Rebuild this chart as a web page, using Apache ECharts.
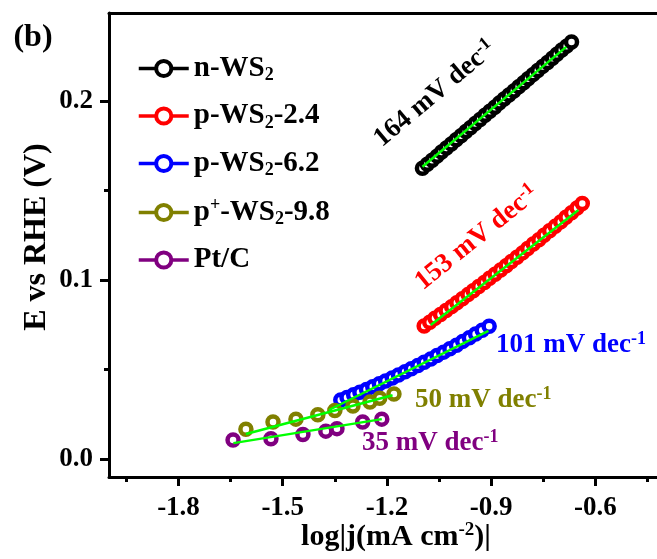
<!DOCTYPE html>
<html><head><meta charset="utf-8">
<script src="https://cdn.jsdelivr.net/npm/echarts@6/dist/echarts.min.js"></script>
<style>html,body{margin:0;padding:0;background:#fff}#c{width:657px;height:559px}</style>
</head><body><div id="c"></div>
<script>
// ---------- data ----------
const seriesNames = ['n-WS2', 'p-WS2-2.4', 'p-WS2-6.2', 'p+-WS2-9.8', 'Pt/C'];
const seriesColors = ['#000000', '#ff0000', '#0000ff', '#808000', '#800080'];

const nWS2_x = [-1.098,-1.084,-1.070,-1.056,-1.043,-1.029,-1.015,-1.001,-0.987,-0.973,-0.960,-0.946,-0.932,-0.918,-0.904,-0.890,-0.877,-0.863,-0.849,-0.835,-0.821,-0.807,-0.794,-0.780,-0.766,-0.752,-0.738,-0.724,-0.711,-0.697,-0.683,-0.669];
const nWS2_y = [0.1623,0.1646,0.1668,0.1691,0.1714,0.1737,0.1759,0.1782,0.1805,0.1828,0.1850,0.1873,0.1896,0.1919,0.1941,0.1964,0.1987,0.2010,0.2032,0.2055,0.2078,0.2101,0.2123,0.2146,0.2169,0.2192,0.2214,0.2237,0.2260,0.2283,0.2305,0.2328];

const pWS2_24_x = [-1.093,-1.077,-1.062,-1.046,-1.030,-1.014,-0.999,-0.983,-0.967,-0.952,-0.936,-0.920,-0.905,-0.889,-0.873,-0.857,-0.842,-0.826,-0.810,-0.795,-0.779,-0.763,-0.748,-0.732,-0.716,-0.700,-0.685,-0.669,-0.653,-0.638];
const pWS2_24_y = [0.0743,0.0764,0.0786,0.0807,0.0829,0.0851,0.0873,0.0895,0.0918,0.0940,0.0963,0.0986,0.1009,0.1032,0.1056,0.1079,0.1103,0.1127,0.1151,0.1175,0.1200,0.1224,0.1249,0.1274,0.1299,0.1324,0.1350,0.1375,0.1401,0.1427];

const pWS2_62_x = [-1.333,-1.315,-1.296,-1.278,-1.259,-1.241,-1.222,-1.204,-1.185,-1.167,-1.148,-1.130,-1.111,-1.093,-1.074,-1.056,-1.037,-1.019,-1.000,-0.982,-0.963,-0.945,-0.926,-0.906];
const pWS2_62_y = [0.0330,0.0344,0.0359,0.0373,0.0389,0.0404,0.0420,0.0436,0.0453,0.0469,0.0487,0.0504,0.0522,0.0540,0.0559,0.0578,0.0597,0.0616,0.0636,0.0657,0.0677,0.0698,0.0719,0.0741];

const ppWS2_98_x = [-1.606,-1.528,-1.462,-1.399,-1.350,-1.298,-1.249,-1.221,-1.180];
const ppWS2_98_y = [0.0167,0.0207,0.0223,0.0248,0.0271,0.0296,0.0318,0.0340,0.0363];

const PtC_x = [-1.643,-1.534,-1.442,-1.376,-1.344,-1.270,-1.215];
const PtC_y = [0.0106,0.0114,0.0137,0.0156,0.0170,0.0207,0.0223];

// linear Tafel fits (end points)
const fit_nWS2 = [[-1.098, 0.1632], [-0.684, 0.2301]];
const fit_pWS2_24 = [[-1.074, 0.0748], [-0.649, 0.1390]];
const fit_pWS2_62 = [[-1.367, 0.0274], [-0.908, 0.0716]];
const fit_ppWS2_98 = [[-1.606, 0.0140], [-1.184, 0.0356]];
const fit_PtC = [[-1.642, 0.0089], [-1.215, 0.0223]];

const xTicks = [-1.8, -1.5, -1.2, -0.9, -0.6];
const xMinorTicks = [-1.95, -1.65, -1.35, -1.05, -0.75, -0.45];
const yTicks = [0.0, 0.1, 0.2];
const yMinorTicks = [0.05, 0.15];
const slopeLabels = ['164', '153', '101', '50', '35'];

// ---------- chart ----------
const FONT = '"Liberation Serif", "Times New Roman", serif';
const zip = (xs, ys) => xs.map((x, i) => [x, ys[i]]);
const dataSets = [zip(nWS2_x, nWS2_y), zip(pWS2_24_x, pWS2_24_y), zip(pWS2_62_x, pWS2_62_y), zip(ppWS2_98_x, ppWS2_98_y), zip(PtC_x, PtC_y)];
const fits = [fit_nWS2, fit_pWS2_24, fit_pWS2_62, fit_ppWS2_98, fit_PtC];

const series = [];
dataSets.forEach((d, i) => {
  series.push({
    name: seriesNames[i], type: 'line', data: d, symbol: 'circle', symbolSize: 11,
    showAllSymbol: true, silent: true, z: 2,
    itemStyle: { color: '#fff', borderColor: seriesColors[i], borderWidth: 4.5 },
    lineStyle: { color: seriesColors[i], width: 3.5, opacity: 0 },
    emphasis: { disabled: true }
  });
});
fits.forEach((d, i) => {
  series.push({
    name: 'fit' + i, type: 'line', data: d, symbol: 'none', silent: true, z: 5,
    lineStyle: { color: '#00ff00', width: 2.5 }, emphasis: { disabled: true }
  });
});

const big = { fontFamily: FONT, fontWeight: 'bold' };
function slopeText(num, color) {
  return {
    text: '{m|' + num + ' mV dec}{s|-1}',
    fill: color,
    align: 'center', verticalAlign: 'middle',
    rich: {
      m: Object.assign({ fontSize: 27, lineHeight: 30, fill: color }, big),
      s: Object.assign({ fontSize: 18, lineHeight: 14, verticalAlign: 'top', fill: color }, big)
    }
  };
}
function slopeTextLeft(num, color) {
  const s = slopeText(num, color); s.align = 'left'; return s;
}

const legendRich = {
  n: Object.assign({ fontSize: 29, lineHeight: 32, color: '#000' }, big),
  sub: Object.assign({ fontSize: 18, lineHeight: 12, verticalAlign: 'bottom', color: '#000' }, big),
  sup: Object.assign({ fontSize: 18, lineHeight: 12, verticalAlign: 'top', color: '#000' }, big)
};
const legendFmt = {
  'n-WS2': '{n|n-WS}{sub|2}',
  'p-WS2-2.4': '{n|p-WS}{sub|2}{n|-2.4}',
  'p-WS2-6.2': '{n|p-WS}{sub|2}{n|-6.2}',
  'p+-WS2-9.8': '{n|p}{sup|+}{n|-WS}{sub|2}{n|-9.8}',
  'Pt/C': '{n|Pt/C}'
};

const axisLabelStyle = Object.assign({ fontSize: 27, color: '#000' }, big);
const chart = echarts.init(document.getElementById('c'), null, { renderer: 'canvas' });
chart.setOption({
  animation: false,
  backgroundColor: '#fff',
  grid: { left: 109, right: 0, top: 13, bottom: 82, containLabel: false },
  xAxis: [
    { type: 'value', position: 'bottom', min: -2.0, max: -0.423, splitLine: { show: false },
      axisLine: { show: true, onZero: false, lineStyle: { color: '#000', width: 3 } },
      axisTick: { show: true, customValues: xTicks, length: 9, lineStyle: { color: '#000', width: 3 } },
      axisLabel: Object.assign({ customValues: xTicks, margin: 18, formatter: v => v.toFixed(1) }, axisLabelStyle) },
    { type: 'value', position: 'bottom', min: -2.0, max: -0.423, splitLine: { show: false },
      axisLine: { show: false, onZero: false },
      axisTick: { show: true, customValues: xMinorTicks, length: 5, lineStyle: { color: '#000', width: 3 } },
      axisLabel: { show: false } },
    { type: 'value', position: 'top', min: -2.0, max: -0.423, splitLine: { show: false },
      axisLine: { show: true, onZero: false, lineStyle: { color: '#000', width: 3 } },
      axisTick: { show: false }, axisLabel: { show: false } }
  ],
  yAxis: [
    { type: 'value', position: 'left', min: -0.01, max: 0.249, splitLine: { show: false },
      axisLine: { show: true, onZero: false, lineStyle: { color: '#000', width: 3 } },
      axisTick: { show: true, customValues: yTicks, length: 9, lineStyle: { color: '#000', width: 3 } },
      axisLabel: Object.assign({ customValues: yTicks, margin: 16, formatter: v => v.toFixed(1) }, axisLabelStyle) },
    { type: 'value', position: 'left', min: -0.01, max: 0.249, splitLine: { show: false },
      axisLine: { show: false, onZero: false },
      axisTick: { show: true, customValues: yMinorTicks, length: 5, lineStyle: { color: '#000', width: 3 } },
      axisLabel: { show: false } }
  ],
  legend: {
    orient: 'vertical', left: 137, top: 54, padding: 0,
    itemWidth: 50, itemHeight: 19, itemGap: 17,
    selectedMode: false,
    data: seriesNames.map((n, i) => ({
      name: n,
      itemStyle: { color: '#fff', borderColor: seriesColors[i], borderWidth: 4, opacity: 1 },
      lineStyle: { color: seriesColors[i], width: 3.5, opacity: 1 }
    })),
    formatter: n => legendFmt[n],
    textStyle: Object.assign({ fontSize: 29, color: '#000', rich: legendRich }, big)
  },
  graphic: [
    { type: 'text', x: 33, y: 38, style: Object.assign({ text: '(b)', fontSize: 32, fill: '#000', align: 'center', verticalAlign: 'middle' }, big) },
    { type: 'text', x: 37, y: 237, rotation: Math.PI / 2,
      style: Object.assign({ text: 'E vs RHE (V)', fontSize: 32, fill: '#000', align: 'center', verticalAlign: 'middle' }, big) },
    { type: 'text', x: 396, y: 537,
      style: { text: '{m|log|j(mA cm}{s|-2}{m|)|}', align: 'center', verticalAlign: 'middle', fill: '#000',
        rich: {
          m: Object.assign({ fontSize: 30, lineHeight: 32, fill: '#000' }, big),
          s: Object.assign({ fontSize: 19, lineHeight: 16, verticalAlign: 'top', fill: '#000' }, big)
        } } },
    { type: 'text', x: 435, y: 94, rotation: 40 * Math.PI / 180, style: slopeText(slopeLabels[0], seriesColors[0]) },
    { type: 'text', x: 477, y: 238, rotation: 39 * Math.PI / 180, style: slopeText(slopeLabels[1], seriesColors[1]) },
    { type: 'text', x: 496, y: 345, style: slopeTextLeft(slopeLabels[2], seriesColors[2]) },
    { type: 'text', x: 415, y: 400, style: slopeTextLeft(slopeLabels[3], seriesColors[3]) },
    { type: 'text', x: 362, y: 443, style: slopeTextLeft(slopeLabels[4], seriesColors[4]) }
  ],
  series: series
});
</script>
</body></html>
